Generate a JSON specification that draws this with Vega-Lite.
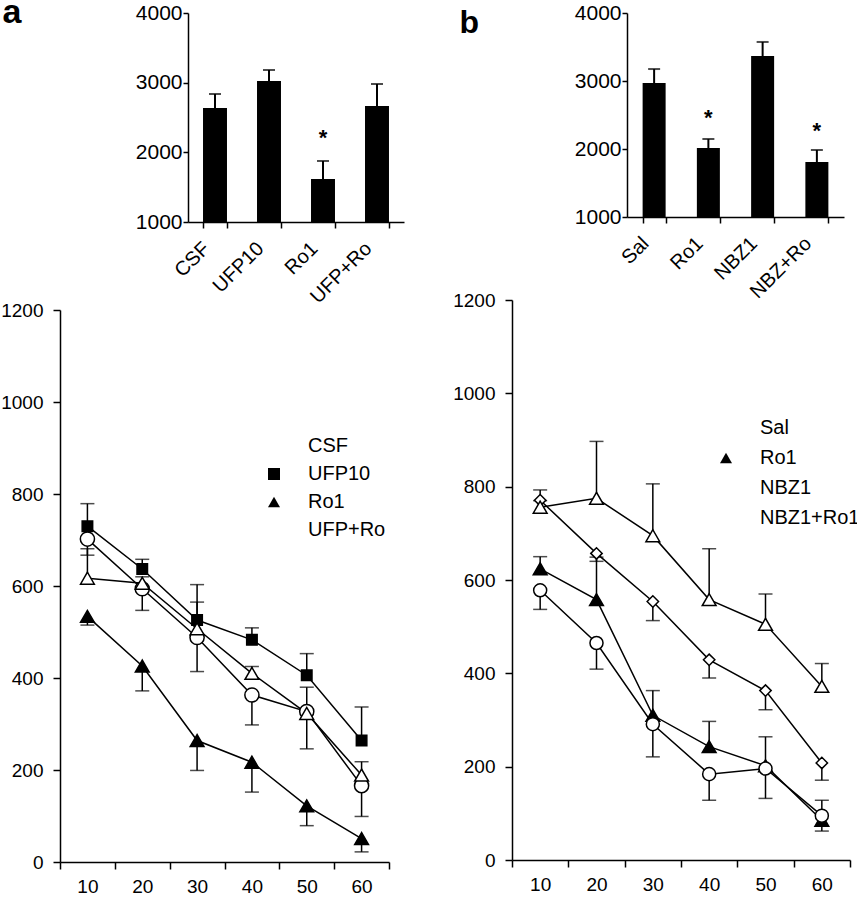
{
  "$schema": "https://vega.github.io/schema/vega-lite/v6.json",
  "width": 790,
  "height": 849,
  "autosize": {"type": "none"},
  "padding": {"left": 60, "top": 13, "right": 7, "bottom": 38},
  "background": "white",
  "config": {
    "view": {"stroke": null},
    "font": "Liberation Sans",
    "axis": {"domainColor": "black", "domainWidth": 1.5, "tickColor": "black", "tickWidth": 1.5, "labelColor": "black", "labelFont": "Liberation Sans", "grid": false, "labelFlush": false, "labelOverlap": false, "titleColor": "black", "titleFont": "Liberation Sans"},
    "legend": {"labelFont": "Liberation Sans", "labelColor": "black"}
  },
  "datasets": {
    "lineA": [
      {"s": "CSF", "t": 10, "v": 702, "e": 667},
      {"s": "CSF", "t": 20, "v": 594, "e": 547},
      {"s": "CSF", "t": 30, "v": 488, "e": 414},
      {"s": "CSF", "t": 40, "v": 363, "e": 298},
      {"s": "CSF", "t": 50, "v": 327, "e": 246},
      {"s": "CSF", "t": 60, "v": 166, "e": 99},
      {"s": "UFP10", "t": 10, "v": 730, "e": 779},
      {"s": "UFP10", "t": 20, "v": 637, "e": 658},
      {"s": "UFP10", "t": 30, "v": 526, "e": 603},
      {"s": "UFP10", "t": 40, "v": 483, "e": 509},
      {"s": "UFP10", "t": 50, "v": 406, "e": 453},
      {"s": "UFP10", "t": 60, "v": 264, "e": 337},
      {"s": "Ro1", "t": 10, "v": 534, "e": 515},
      {"s": "Ro1", "t": 20, "v": 426, "e": 372},
      {"s": "Ro1", "t": 30, "v": 264, "e": 199},
      {"s": "Ro1", "t": 40, "v": 217, "e": 152},
      {"s": "Ro1", "t": 50, "v": 122, "e": 79},
      {"s": "Ro1", "t": 60, "v": 51, "e": 22},
      {"s": "UFP+Ro", "t": 10, "v": 617, "e": 681},
      {"s": "UFP+Ro", "t": 20, "v": 606, "e": 620},
      {"s": "UFP+Ro", "t": 30, "v": 507, "e": 565},
      {"s": "UFP+Ro", "t": 40, "v": 410, "e": 425},
      {"s": "UFP+Ro", "t": 50, "v": 323, "e": 380},
      {"s": "UFP+Ro", "t": 60, "v": 189, "e": 218}
    ],
    "lineB": [
      {"s": "Sal", "t": 10, "v": 771, "e": 793},
      {"s": "Sal", "t": 20, "v": 657, "e": 640},
      {"s": "Sal", "t": 30, "v": 554, "e": 513},
      {"s": "Sal", "t": 40, "v": 429, "e": 390},
      {"s": "Sal", "t": 50, "v": 363, "e": 322},
      {"s": "Sal", "t": 60, "v": 208, "e": 171},
      {"s": "Ro1", "t": 10, "v": 624, "e": 650},
      {"s": "Ro1", "t": 20, "v": 558, "e": 649},
      {"s": "Ro1", "t": 30, "v": 310, "e": 363},
      {"s": "Ro1", "t": 40, "v": 243, "e": 297},
      {"s": "Ro1", "t": 50, "v": 202, "e": 264},
      {"s": "Ro1", "t": 60, "v": 85, "e": 62},
      {"s": "NBZ1", "t": 10, "v": 756, "e": 770},
      {"s": "NBZ1", "t": 20, "v": 775, "e": 897},
      {"s": "NBZ1", "t": 30, "v": 695, "e": 806},
      {"s": "NBZ1", "t": 40, "v": 558, "e": 667},
      {"s": "NBZ1", "t": 50, "v": 505, "e": 570},
      {"s": "NBZ1", "t": 60, "v": 372, "e": 421},
      {"s": "NBZ1+Ro1", "t": 10, "v": 578, "e": 537},
      {"s": "NBZ1+Ro1", "t": 20, "v": 465, "e": 409},
      {"s": "NBZ1+Ro1", "t": 30, "v": 291, "e": 221},
      {"s": "NBZ1+Ro1", "t": 40, "v": 184, "e": 128},
      {"s": "NBZ1+Ro1", "t": 50, "v": 196, "e": 132},
      {"s": "NBZ1+Ro1", "t": 60, "v": 95, "e": 128}
    ]
  },
  "layer": [
    {
      "data": {"values": [
        {"g": "CSF", "v": 2636, "e": 2837},
        {"g": "UFP10", "v": 3024, "e": 3182},
        {"g": "Ro1", "v": 1617, "e": 1876, "star": 2277},
        {"g": "UFP+Ro", "v": 2665, "e": 2981}
      ]},
      "encoding": {
        "x": {"field": "g", "type": "nominal", "sort": null, "scale": {"range": [128, 344], "paddingInner": 0.556, "paddingOuter": 0.278},
          "axis": {"orient": "bottom", "offset": -640, "title": null, "labelAngle": -45, "labelFontSize": 20, "tickBand": "extent", "tickSize": 6, "labelPadding": 10, "labelOffset": -16}}
      },
      "layer": [
        {"mark": {"type": "bar", "color": "black"},
         "encoding": {"y": {"field": "v", "type": "quantitative", "scale": {"domain": [1000, 4000], "range": [209, 0], "nice": false},
           "axis": {"orient": "left", "offset": -128, "values": [1000, 2000, 3000, 4000], "format": "d", "labelFontSize": 21, "tickSize": 5, "labelPadding": 1,
             "title": "a", "titleAngle": 0, "titleFontSize": 34, "titleFontWeight": "bold", "titleAlign": "left", "titleBaseline": "alphabetic", "titleX": -186, "titleY": 9}},
           "y2": {"datum": 1000}}},
        {"mark": {"type": "rule", "color": "black", "strokeWidth": 2},
         "encoding": {"y": {"field": "v", "type": "quantitative"}, "y2": {"field": "e"}}},
        {"mark": {"type": "tick", "orient": "horizontal", "color": "black", "size": 12, "thickness": 2},
         "encoding": {"y": {"field": "e", "type": "quantitative"}}},
        {"mark": {"type": "text", "text": "*", "fontSize": 22, "fontWeight": "bold", "color": "black", "baseline": "middle", "dy": 5},
         "encoding": {"y": {"field": "star", "type": "quantitative"}}}
      ]
    },
    {
      "data": {"values": [
        {"g": "Sal", "v": 2970, "e": 3176},
        {"g": "Ro1", "v": 2015, "e": 2147, "star": 2529},
        {"g": "NBZ1", "v": 3368, "e": 3574},
        {"g": "NBZ+Ro", "v": 1809, "e": 1985, "star": 2338}
      ]},
      "encoding": {
        "x": {"field": "g", "type": "nominal", "sort": null, "scale": {"range": [567, 784], "paddingInner": 0.576, "paddingOuter": 0.288},
          "axis": {"orient": "bottom", "offset": -645, "title": null, "labelAngle": -45, "labelFontSize": 20, "tickBand": "extent", "tickSize": 6, "labelPadding": 10, "labelOffset": -16}}
      },
      "layer": [
        {"mark": {"type": "bar", "color": "black"},
         "encoding": {"y": {"field": "v", "type": "quantitative", "scale": {"domain": [1000, 4000], "range": [204, 0], "nice": false},
           "axis": {"orient": "left", "offset": -567, "values": [1000, 2000, 3000, 4000], "format": "d", "labelFontSize": 21, "tickSize": 5, "labelPadding": 1,
             "title": "b", "titleAngle": 0, "titleFontSize": 32, "titleFontWeight": "bold", "titleAlign": "left", "titleBaseline": "alphabetic", "titleX": -168, "titleY": 19}},
           "y2": {"datum": 1000}}},
        {"mark": {"type": "rule", "color": "black", "strokeWidth": 2},
         "encoding": {"y": {"field": "v", "type": "quantitative"}, "y2": {"field": "e"}}},
        {"mark": {"type": "tick", "orient": "horizontal", "color": "black", "size": 12, "thickness": 2},
         "encoding": {"y": {"field": "e", "type": "quantitative"}}},
        {"mark": {"type": "text", "text": "*", "fontSize": 22, "fontWeight": "bold", "color": "black", "baseline": "middle", "dy": 5},
         "encoding": {"y": {"field": "star", "type": "quantitative"}}}
      ]
    },
    {
      "data": {"name": "lineA"},
      "encoding": {
        "x": {"field": "t", "type": "quantitative", "scale": {"domain": [5, 65], "range": [0, 329], "nice": false},
          "axis": {"orient": "bottom", "offset": 0, "title": null, "values": [5, 10, 15, 20, 25, 30, 35, 40, 45, 50, 55, 60, 65], "labelExpr": "datum.value % 10 === 0 ? datum.label : ''",
            "tickOpacity": {"condition": {"test": "datum.value % 10 === 0", "value": 0}, "value": 1}, "labelFontSize": 19, "tickSize": 7, "labelPadding": 8}}
      },
      "layer": [
        {"mark": {"type": "rule", "color": "black", "strokeWidth": 1.5},
         "encoding": {"y": {"field": "v", "type": "quantitative", "scale": {"domain": [0, 1200], "range": [849, 297], "nice": false},
           "axis": {"orient": "left", "offset": 0, "title": null, "values": [0, 200, 400, 600, 800, 1000, 1200], "format": "d", "labelFontSize": 19, "tickSize": 7, "labelPadding": 10}},
           "y2": {"field": "e"}}},
        {"mark": {"type": "tick", "orient": "horizontal", "color": "black", "size": 14, "thickness": 1.5},
         "encoding": {"y": {"field": "e", "type": "quantitative"}}},
        {"mark": {"type": "line", "color": "black", "strokeWidth": 1.5},
         "encoding": {"y": {"field": "v", "type": "quantitative"}, "detail": {"field": "s"}}}
      ]
    },
    {
      "data": {"name": "lineA"},
      "mark": {"type": "point", "stroke": "black", "strokeWidth": 1.5, "opacity": 1},
      "encoding": {
        "x": {"field": "t", "type": "quantitative", "scale": {"domain": [5, 65], "range": [0, 329], "nice": false}, "axis": null},
        "y": {"field": "v", "type": "quantitative", "scale": {"domain": [0, 1200], "range": [849, 297], "nice": false}, "axis": null},
        "shape": {"field": "s", "type": "nominal", "scale": {"domain": ["CSF", "UFP10", "Ro1", "UFP+Ro"], "range": ["circle", "square", "triangle-up", "triangle-up"]},
          "legend": {"title": null, "orient": "none", "legendX": 204, "legendY": 423, "padding": 0, "labelFontSize": 20, "symbolSize": 144, "symbolStrokeWidth": 1.5, "symbolStrokeColor": "black", "rowPadding": 8, "labelOffset": 24}},
        "fill": {"field": "s", "type": "nominal", "scale": {"domain": ["CSF", "UFP10", "Ro1", "UFP+Ro"], "range": ["white", "black", "black", "white"]}},
        "size": {"condition": [{"test": "datum.s === 'UFP10'", "value": 110}, {"test": "datum.s === 'CSF'", "value": 200}], "value": 190}
      }
    },
    {
      "data": {"name": "lineB"},
      "encoding": {
        "x": {"field": "t", "type": "quantitative", "scale": {"domain": [5, 65], "range": [452, 790], "nice": false},
          "axis": {"orient": "bottom", "offset": -2, "title": null, "values": [5, 10, 15, 20, 25, 30, 35, 40, 45, 50, 55, 60, 65], "labelExpr": "datum.value % 10 === 0 ? datum.label : ''",
            "tickOpacity": {"condition": {"test": "datum.value % 10 === 0", "value": 0}, "value": 1}, "labelFontSize": 19, "tickSize": 7, "labelPadding": 8}}
      },
      "layer": [
        {"mark": {"type": "rule", "color": "black", "strokeWidth": 1.5},
         "encoding": {"y": {"field": "v", "type": "quantitative", "scale": {"domain": [0, 1200], "range": [847, 287], "nice": false},
           "axis": {"orient": "left", "offset": -452, "title": null, "values": [0, 200, 400, 600, 800, 1000, 1200], "format": "d", "labelFontSize": 19, "tickSize": 7, "labelPadding": 10}},
           "y2": {"field": "e"}}},
        {"mark": {"type": "tick", "orient": "horizontal", "color": "black", "size": 14, "thickness": 1.5},
         "encoding": {"y": {"field": "e", "type": "quantitative"}}},
        {"mark": {"type": "line", "color": "black", "strokeWidth": 1.5},
         "encoding": {"y": {"field": "v", "type": "quantitative"}, "detail": {"field": "s"}}}
      ]
    },
    {
      "data": {"name": "lineB"},
      "mark": {"type": "point", "stroke": "black", "strokeWidth": 1.5, "opacity": 1},
      "encoding": {
        "x": {"field": "t", "type": "quantitative", "scale": {"domain": [5, 65], "range": [452, 790], "nice": false}, "axis": null},
        "y": {"field": "v", "type": "quantitative", "scale": {"domain": [0, 1200], "range": [847, 287], "nice": false}, "axis": null},
        "shape": {"field": "s", "type": "nominal", "scale": {"domain": ["Sal", "Ro1", "NBZ1", "NBZ1+Ro1"], "range": ["diamond", "triangle-up", "triangle-up", "circle"]},
          "legend": {"title": null, "orient": "none", "legendX": 656, "legendY": 405, "padding": 0, "labelFontSize": 20, "symbolSize": 144, "symbolStrokeWidth": 1.5, "symbolStrokeColor": "black", "rowPadding": 10, "labelOffset": 24}},
        "fill": {"field": "s", "type": "nominal", "scale": {"domain": ["Sal", "Ro1", "NBZ1", "NBZ1+Ro1"], "range": ["white", "black", "white", "white"]}},
        "size": {"condition": [{"test": "datum.s === 'Sal'", "value": 130}, {"test": "datum.s === 'NBZ1+Ro1'", "value": 170}], "value": 190}
      }
    }
  ],
  "resolve": {"scale": {"x": "independent", "y": "independent", "shape": "independent", "fill": "independent"}}
}
